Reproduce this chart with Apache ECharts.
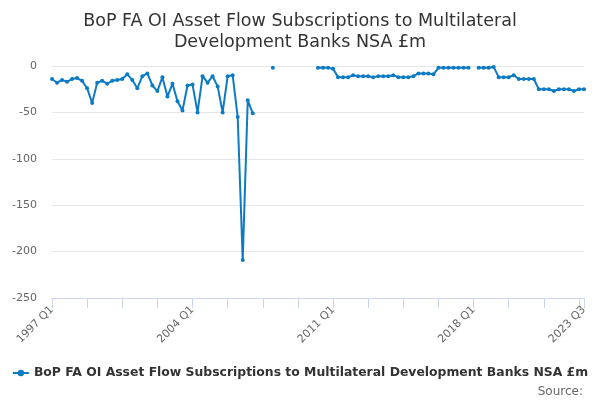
<!DOCTYPE html>
<html lang="en">
<head>
	<meta charset="UTF-8">
	<title>BoP FA OI Asset Flow Subscriptions</title>
	<style type="text/css">
		html,body{
			padding: 0;
			margin: 0;
			background: #fff;
		}
		#main{
			width: 600px;
			height: 400px;
		}
	</style>
</head>
<body>
	<div id="main"></div>
	<script type="text/javascript" src="https://cdn.jsdelivr.net/npm/echarts@6/dist/echarts.min.js"></script>
	<script type="text/javascript">
		var titleText = 'BoP FA OI Asset Flow Subscriptions to Multilateral\nDevelopment Banks NSA £m';
		var seriesName = 'BoP FA OI Asset Flow Subscriptions to Multilateral Development Banks NSA £m';

		// quarters 1997 Q1 .. 2023 Q3
		var firstYear = 1997;
		var lastYear = 2023;
		var lastQuarter = 3;
		var categories = [];
		for (var y = firstYear; y <= lastYear; y++) {
			for (var q = 1; q <= 4; q++) {
				if (y == lastYear && q > lastQuarter) break;
				categories.push(y + ' Q' + q);
			}
		}

		var labelYears = ['1997 Q1', '2004 Q1', '2011 Q1', '2018 Q1', '2023 Q3'];
		var yTicks = [0, -50, -100, -150, -200, -250];

		// £m, one value per quarter, null where no figure
		var values1997to2006 = [
			-14, -18, -15, -17, -14, -13, -16, -24, -40, -18,
			-16, -19, -16, -15, -14, -9, -15, -24, -11, -8,
			-21, -27, -12, -33, -19, -38, -48, -21, -20, -50,
			-11, -18, -11, -22, -50, -11, -10, -55, -209, -37,
			-51
		];
		var values2007to2009 = [null, null, null, -2, null, null, null, null, null, null, null, null];
		var values2010to2017 = [
			-2, -2, -2, -3, -12, -12, -12, -10,
			-11, -11, -11, -12, -11, -11, -11, -10,
			-12, -12, -12, -11, -8, -8, -8, -9,
			-2, -2, -2, -2, -2, -2, -2
		];
		var values2018to2023 = [
			null, -2, -2, -2, -1, -12, -12, -12, -10,
			-14, -14, -14, -14, -25, -25, -25, -27,
			-25, -25, -25, -27, -25, -25
		];
		var values = values1997to2006.concat(values2007to2009, values2010to2017, values2018to2023);

		var lineColor = '#0d7bc3';
		var myChart = echarts.init(document.getElementById('main'));
		myChart.setOption({
			backgroundColor: '#fff',
			animation: false,
			textStyle: { fontFamily: 'DejaVu Sans' },
			title: [{
				text: titleText,
				left: 'center',
				top: 6,
				textStyle: {
					fontSize: 17.5,
					fontWeight: 'normal',
					color: '#333',
					lineHeight: 21,
					fontFamily: 'DejaVu Sans'
				}
			}, {
				text: 'Source:',
				right: 12,
				top: 381,
				textStyle: {
					fontSize: 12,
					fontWeight: 'normal',
					color: '#666',
					fontFamily: 'DejaVu Sans'
				}
			}],
			legend: {
				data: [seriesName],
				left: 'center',
				top: 362,
				itemWidth: 16,
				itemHeight: 8,
				itemGap: 4,
				textStyle: {
					fontSize: 12.4,
					fontWeight: 'bold',
					color: '#333',
					fontFamily: 'DejaVu Sans'
				}
			},
			grid: {
				left: 52,
				right: 16,
				top: 66,
				bottom: 102,
				containLabel: false
			},
			xAxis: {
				type: 'category',
				data: categories,
				boundaryGap: false,
				axisLine: { onZero: false, lineStyle: { color: '#ccd6eb' } },
				axisTick: {
					length: 10,
					lineStyle: { color: '#ccd6eb' },
					interval: function (index) {
						return index % 7 == 0 || index == categories.length - 1;
					}
				},
				axisLabel: {
					rotate: 45,
					fontSize: 11,
					color: '#666',
					margin: 10,
					interval: function (index, value) {
						return labelYears.indexOf(value) != -1;
					}
				},
				splitLine: { show: false }
			},
			yAxis: {
				type: 'value',
				min: yTicks[yTicks.length - 1],
				max: yTicks[0],
				interval: 50,
				axisLine: { show: false },
				axisTick: { show: false },
				axisLabel: {
					fontSize: 11,
					color: '#666',
					margin: 15
				},
				splitLine: { lineStyle: { color: '#e6e6e6' } }
			},
			series: [{
				name: seriesName,
				type: 'line',
				data: values,
				connectNulls: false,
				symbol: 'circle',
				symbolSize: 4,
				showSymbol: true,
				showAllSymbol: true,
				color: lineColor,
				lineStyle: { width: 2, color: lineColor },
				itemStyle: { color: lineColor }
			}]
		});
	</script>
</body>
</html>
